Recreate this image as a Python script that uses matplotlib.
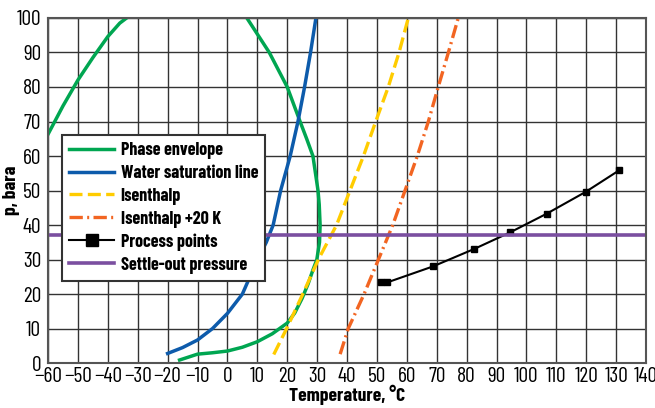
import matplotlib.pyplot as plt
from matplotlib import font_manager
import numpy as np

# phase envelope (two branches)
env_left_t = [-60, -55, -50, -45, -40, -36, -33.7]
env_left_p = [66.3, 74.5, 82, 88.5, 94.6, 98.5, 100]
env_right_t = [-16, -10, -5, 0, 5, 10, 15, 20, 22.5, 25, 27, 28.6, 29.9, 30.8, 31, 30.7, 30.3, 28.6, 26.5, 24.3, 20, 14, 6.5]
env_right_p = [0.9, 2.6, 3.0, 3.5, 4.6, 6.2, 8.5, 11.6, 14.5, 18.8, 23, 27, 30, 35, 40, 46, 50, 60, 65, 70, 80, 90, 100]

water_t = [-20, -15, -10, -5, 0, 5, 10, 13, 15.3, 17.8, 21, 23.6, 25.8, 27.8, 29.6]
water_p = [2.8, 4.5, 6.7, 10, 14.4, 20, 29.9, 35, 40, 50, 60, 70, 80, 90, 100]

isen_t = [15.5, 19.8, 25.2, 30.4, 36.5, 41, 45.5, 49.6, 53.8, 57.4, 60.5]
isen_p = [2.5, 10, 20, 30, 40, 50, 60, 70, 80, 90, 100]

isen20_t = [37.7, 40.4, 45.7, 50.5, 55.3, 59.4, 63.5, 67.2, 70.5, 73.9, 77.2]
isen20_p = [2.6, 10, 20, 30, 40, 50, 60, 70, 80, 90, 100]

proc_t = [51.5, 53.5, 68.7, 82.6, 94.6, 106.8, 119.8, 131.1]
proc_p = [23.4, 23.4, 28.0, 33.1, 37.9, 43.3, 49.6, 55.9]

settle_p = 37.0

installed = {f.name for f in font_manager.fontManager.ttflist}
font = 'DejaVu Sans'
for cand in ['Barlow Condensed', 'Roboto Condensed', 'Roboto']:
    if cand in installed:
        font = cand
        break
plt.rcParams['font.family'] = [font, 'DejaVu Sans']

fig = plt.figure(figsize=(6.55, 4.08), dpi=100)
ax = fig.add_axes([0.0733, 0.110, 0.913, 0.846])

ax.plot(env_left_t, env_left_p, color='#00a651', lw=2.5)
ax.plot(env_right_t, env_right_p, color='#00a651', lw=2.5, label='Phase envelope')
ax.plot(water_t, water_p, color='#0d5bab', lw=2.5, label='Water saturation line')
ax.plot(isen_t, isen_p, color='#ffcc00', lw=2.4, ls=(0, (3.9, 1.6)), label='Isenthalp')
ax.plot(isen20_t, isen20_p, color='#f26522', lw=2.4, ls=(0, (4, 1.3, 0.6, 1.3)), label='Isenthalp +20 K')
ax.plot(proc_t, proc_p, color='black', lw=1.5, marker='s', markersize=4.5, label='Process points')
ax.axhline(settle_p, color='#7b4fa0', lw=2.6, label='Settle-out pressure')

ax.set_xlim(-60, 140)
ax.set_ylim(0, 100)
ax.set_xticks(np.arange(-60, 141, 10))
ax.set_yticks(np.arange(0, 101, 10))
ax.set_xticklabels([str(v).replace('-', '\u2212') for v in range(-60, 141, 10)])
ax.tick_params(length=0, labelsize=15.5)
ax.tick_params(axis='x', pad=3)
ax.tick_params(axis='y', pad=5)
ax.grid(True, color='#333333', lw=1.0)
ax.set_axisbelow(True)
for s in ax.spines.values():
    s.set_color('#555555')
    s.set_linewidth(1.5)

ax.set_xlabel('Temperature, \u00b0C', fontsize=14, fontweight='bold', labelpad=-1)
ax.set_ylabel('p, bara', fontsize=14, fontweight='bold')
ax.yaxis.set_label_coords(-0.047, 0.5)

leg = ax.legend(loc='upper left', bbox_to_anchor=(0.0234, 0.661), borderaxespad=0,
                prop={'weight': 'bold', 'size': 13}, frameon=True, fancybox=False,
                handlelength=2.5, handletextpad=0.35, labelspacing=0.32, borderpad=0.4,
                markerscale=2.0)
leg.get_frame().set_edgecolor('#333333')
leg.get_frame().set_linewidth(1.5)
leg.get_frame().set_alpha(1)

fig.savefig('out.png', dpi=100)
